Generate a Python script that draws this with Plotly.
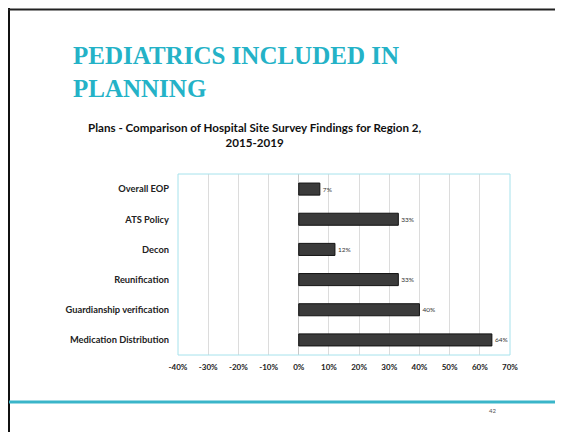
import plotly.graph_objects as go

categories = [
    "Overall EOP",
    "ATS Policy",
    "Decon",
    "Reunification",
    "Guardianship verification",
    "Medication Distribution",
]
values = [7, 33, 12, 33, 40, 64]
tick_vals = [-40, -30, -20, -10, 0, 10, 20, 30, 40, 50, 60, 70]
tick_text = ["-40%", "-30%", "-20%", "-10%", "0%", "10%", "20%", "30%", "40%", "50%", "60%", "70%"]

# the page body adds an 8px margin, so work in window pixels and shift
OFF = 8
W, H = 563 - OFF, 432 - OFF
L, R, T, B = 178 - OFF, 510 - OFF, 174 - OFF, 355 - OFF


def px(x):
    return (x - OFF - L) / (R - L)


def py(y):
    return (B - (y - OFF)) / (B - T)


fig = go.Figure(
    go.Bar(
        x=values,
        y=categories,
        orientation="h",
        width=0.4,
        marker=dict(color="#3b3b3b", line=dict(color="#111111", width=1)),
        text=[f"{v}%" for v in values],
        textposition="outside",
        textfont=dict(size=6.5, color="#333333", family="Lato"),
        cliponaxis=False,
    )
)

fig.update_xaxes(
    range=[-40, 70],
    tickvals=tick_vals,
    ticktext=tick_text,
    tickfont=dict(size=8, color="#222222", family="Lato", weight="bold"),
    ticklabelstandoff=6,
    showgrid=True,
    gridcolor="#dcdcdc",
    gridwidth=1,
    zeroline=True,
    zerolinecolor="#c8c8c8",
    zerolinewidth=1,
    showline=False,
    ticks="",
)
fig.update_yaxes(
    categoryorder="array",
    categoryarray=categories[::-1],
    tickfont=dict(size=9.3, color="#222222", family="Lato", weight="bold"),
    ticklabelstandoff=8,
    ticks="",
    ticklen=0,
    showgrid=False,
    showline=False,
)

shapes = [
    # slide frame
    dict(type="line", xref="paper", yref="paper", x0=px(9), x1=px(9), y0=py(8), y1=py(440),
         line=dict(color="#111111", width=2)),
    dict(type="line", xref="paper", yref="paper", x0=px(8), x1=px(570), y0=py(9.5), y1=py(9.5),
         line=dict(color="#222222", width=2)),
    # footer rule
    dict(type="line", xref="paper", yref="paper", x0=px(9), x1=px(570), y0=py(402), y1=py(402),
         line=dict(color="#3ab5c9", width=3)),
    # plot frame
    dict(type="rect", xref="paper", yref="paper", x0=0, x1=1, y0=0, y1=1,
         line=dict(color="#a6e2ec", width=1)),
]

annotations = [
    dict(text="PEDIATRICS INCLUDED IN<br>PLANNING", x=px(71), y=py(40), xref="paper", yref="paper",
         xanchor="left", yanchor="top", align="left", showarrow=False,
         font=dict(family="Liberation Serif", size=25, color="#24b2c7", weight="bold")),
    dict(text="Plans - Comparison of Hospital Site Survey Findings for Region 2,<br>2015-2019",
         x=px(255), y=py(119), xref="paper", yref="paper", xanchor="center", yanchor="top",
         align="center", showarrow=False,
         font=dict(family="Lato", size=11.6, color="#111111", weight="bold")),
    dict(text="42", x=px(498), y=py(416), xref="paper", yref="paper", showarrow=False,
         font=dict(family="Lato", size=6, color="#555555")),
]

fig.update_layout(
    width=W,
    height=H,
    margin=dict(l=L, r=W - R, t=T, b=H - B),
    paper_bgcolor="white",
    plot_bgcolor="white",
    showlegend=False,
    shapes=shapes,
    annotations=annotations,
)

fig.write_html("out.html")
